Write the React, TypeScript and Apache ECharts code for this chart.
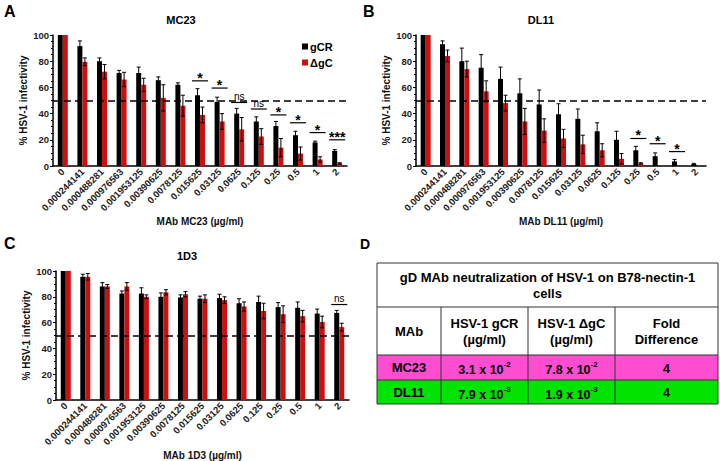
import React, { useEffect, useRef } from "react";
import * as echarts from "echarts";

const FONT = '"Liberation Sans", Arial, Helvetica, sans-serif';

const categories = ["0", "0.000244141", "0.000488281", "0.000976563", "0.001953125", "0.00390625", "0.0078125", "0.015625", "0.03125", "0.0625", "0.125", "0.25", "0.5", "1", "2"];
const seriesNames = ["gCR", "ΔgC"];

// Panel A – MC23
const mc23Gcr = [100, 91.5, 80, 71, 71, 65.5, 62, 54, 49, 40, 34, 30.5, 23.5, 18, 11.5];
const mc23GcrErr = [0, 4, 2.5, 2, 4.5, 2.5, 1.5, 5, 3.5, 4, 3.5, 3.5, 3, 1, 1];
const mc23Dgc = [100, 79.5, 72, 66, 62, 52, 46, 39, 34, 28, 22.5, 14, 9.5, 5, 2];
const mc23DgcErr = [0, 3, 5.5, 5.5, 5, 10, 8, 6, 6, 9, 6, 7, 5, 2, 0.5];
const mc23SigIdx = [7, 8, 9, 10, 11, 12, 13, 14];
const mc23SigY = [65, 59.5, 48.5, 43.5, 39, 33, 25.5, 20];
const mc23SigLbl = ["*", "*", "ns", "ns", "*", "*", "*", "***"];

// Panel B – DL11
const dl11Gcr = [100, 93, 80, 75, 66.5, 55.5, 47, 39.5, 36, 26.5, 20, 12, 7.5, 3.5, 1.5];
const dl11GcrErr = [0, 2.5, 10, 10, 9, 11, 11, 8, 7.5, 6.5, 6.5, 3, 2.5, 1.5, 0.5];
const dl11Dgc = [100, 84, 74, 57, 48, 34, 27, 21, 16.5, 12, 5.5, 2, 0, 0, 0];
const dl11DgcErr = [0, 4.5, 6, 8, 6, 10, 9, 7, 7, 5, 4, 0.5, 0, 0, 0];
const dl11SigIdx = [11, 12, 13];
const dl11SigY = [21, 17, 11];
const dl11SigLbl = ["*", "*", "*"];

// Panel C – 1D3
const d13Gcr = [100, 95.5, 88, 82.5, 82.5, 80, 79.5, 78.5, 79, 75, 76, 72, 71.5, 67, 67.5];
const d13GcrErr = [0, 2, 3, 2, 4.5, 3, 2, 2, 3, 3.5, 4.5, 3.5, 4.5, 3.5, 2];
const d13Dgc = [100, 95.5, 88, 88, 80, 83.5, 82, 78.5, 77.5, 72.5, 69, 66.5, 65, 60.5, 56.5];
const d13DgcErr = [0, 2.5, 1.5, 3, 1.5, 2, 2, 3, 2.5, 3.5, 6, 6.5, 4.5, 4.5, 3];
const d13SigIdx = [14];
const d13SigY = [74];
const d13SigLbl = ["ns"];

const yTicks = [0, 20, 40, 60, 80, 100];
const refLine = 50;

// Panel D – table
const tableTitle = "gD MAb neutralization of HSV-1 on B78-nectin-1\ncells";
const tableHeaders = ["MAb", "HSV-1 gCR\n(µg/ml)", "HSV-1 ΔgC\n(µg/ml)", "Fold\nDifference"];
const tableMabs = ["MC23", "DL11"];
const tableGcr = [["3.1 x 10", "-2"], ["7.9 x 10", "-3"]];
const tableDgc = [["7.8 x 10", "-2"], ["1.9 x 10", "-3"]];
const tableFold = ["4", "4"];
const rowColors = ["#FF4DD2", "#00E400"];

const BLACK = "#000000";
const RED = "#CC1010";

function errorBarSeries(gi: number, vals: number[], errs: number[], offset: number) {
  return {
    type: "custom",
    xAxisIndex: gi,
    yAxisIndex: gi,
    z: 5,
    clip: false,
    silent: true,
    encode: { x: 0, y: 1 },
    data: vals.map((v, i) => [i, v, errs[i]]),
    renderItem: (params: any, api: any) => {
      const idx = api.value(0);
      const v = api.value(1);
      const e = api.value(2);
      if (!e) return null;
      const top = api.coord([idx, v + e]);
      const bot = api.coord([idx, Math.max(0, v - e)]);
      const cx = top[0] + offset;
      const st = { stroke: "#000", lineWidth: 1 };
      return {
        type: "group",
        children: [
          { type: "line", shape: { x1: cx, y1: top[1], x2: cx, y2: bot[1] }, style: st },
          { type: "line", shape: { x1: cx - 2, y1: top[1], x2: cx + 2, y2: top[1] }, style: st },
          { type: "line", shape: { x1: cx - 2, y1: bot[1], x2: cx + 2, y2: bot[1] }, style: st },
        ],
      };
    },
  };
}

function sigSeries(gi: number, idxs: number[], ys: number[], labels: string[]) {
  return {
    type: "custom",
    xAxisIndex: gi,
    yAxisIndex: gi,
    z: 6,
    clip: false,
    silent: true,
    encode: { x: 0, y: 1 },
    data: idxs.map((c, i) => [c, ys[i]]),
    renderItem: (params: any, api: any) => {
      const p = api.coord([api.value(0), api.value(1)]);
      const lbl = labels[params.dataIndex];
      const isStar = lbl.indexOf("*") >= 0;
      return {
        type: "group",
        children: [
          { type: "line", shape: { x1: p[0] - 8, y1: p[1], x2: p[0] + 8, y2: p[1] }, style: { stroke: "#000", lineWidth: 1.2 } },
          {
            type: "text",
            style: {
              text: lbl,
              x: p[0],
              y: isStar ? p[1] + 4 : p[1] - 1,
              align: "center",
              verticalAlign: "bottom",
              textAlign: "center",
              textVerticalAlign: "bottom",
              font: isStar ? `bold 14px ${FONT}` : `normal 10px ${FONT}`,
              fill: "#000",
            },
          },
        ],
      };
    },
  };
}

function panelSeries(gi: number, gcr: number[], gcrErr: number[], dgc: number[], dgcErr: number[], sIdx: number[], sY: number[], sL: string[]) {
  return [
    {
      type: "line",
      xAxisIndex: gi,
      yAxisIndex: gi,
      data: [],
      z: 1,
      silent: true,
      markLine: {
        silent: true,
        symbol: ["none", "none"],
        label: { show: false },
        lineStyle: { color: "#000", type: [7, 4], width: 1.5 },
        data: [{ yAxis: refLine }],
      },
    },
    {
      name: seriesNames[0],
      type: "bar",
      xAxisIndex: gi,
      yAxisIndex: gi,
      data: gcr,
      barWidth: 5,
      barGap: "0%",
      z: 3,
      itemStyle: { color: BLACK },
    },
    {
      name: seriesNames[1],
      type: "bar",
      xAxisIndex: gi,
      yAxisIndex: gi,
      data: dgc,
      barWidth: 5,
      barGap: "0%",
      z: 3,
      itemStyle: { color: RED },
    },
    errorBarSeries(gi, gcr, gcrErr, -2.5),
    errorBarSeries(gi, dgc, dgcErr, 2.5),
    sigSeries(gi, sIdx, sY, sL),
  ];
}

function makeXAxis(gi: number, name: string) {
  return {
    type: "category",
    gridIndex: gi,
    data: categories,
    boundaryGap: true,
    name,
    nameLocation: "middle",
    nameGap: 50,
    nameTextStyle: { fontFamily: FONT, fontWeight: "bold", fontSize: 10, color: "#111" },
    axisLine: { show: true, lineStyle: { color: "#000", width: 1.5 } },
    axisTick: { show: false },
    axisLabel: { interval: 0, rotate: 45, fontFamily: FONT, fontWeight: "bold", fontSize: 9.5, color: "#222", margin: 4 },
    splitLine: { show: false },
  };
}

function makeYAxis(gi: number) {
  return {
    type: "value",
    gridIndex: gi,
    min: yTicks[0],
    max: yTicks[yTicks.length - 1],
    interval: yTicks[1] - yTicks[0],
    name: "% HSV-1 infectivity",
    nameLocation: "middle",
    nameGap: 25,
    nameTextStyle: { fontFamily: FONT, fontWeight: "bold", fontSize: 10, color: "#111" },
    axisLine: { show: true, lineStyle: { color: "#000", width: 1.5 } },
    axisTick: { show: true, length: 3, lineStyle: { color: "#000" } },
    minorTick: { show: true, splitNumber: 4, length: 2, lineStyle: { color: "#000" } },
    splitLine: { show: false },
    axisLabel: { fontFamily: FONT, fontWeight: "bold", fontSize: 9.5, color: "#222", margin: 4 },
  };
}

function txt(x: number, y: number, text: string, size: number, align = "center", vAlign = "middle", weight = "bold") {
  return {
    type: "text",
    x,
    y,
    silent: true,
    style: {
      text,
      font: `${weight} ${size}px ${FONT}`,
      fill: "#000",
      align,
      verticalAlign: vAlign,
      textAlign: align,
      textVerticalAlign: vAlign,
      lineHeight: size + 3,
    },
  };
}

function supText(x: number, y: number, parts: string[]) {
  return {
    type: "text",
    x,
    y,
    silent: true,
    style: {
      text: `{b|${parts[0]}}{s|${parts[1]}}`,
      align: "center",
      verticalAlign: "middle",
      textAlign: "center",
      textVerticalAlign: "middle",
      rich: {
        b: { font: `bold 12.5px ${FONT}`, fill: "#000", lineHeight: 16, verticalAlign: "bottom" },
        s: { font: `bold 8px ${FONT}`, fill: "#000", lineHeight: 16, verticalAlign: "top" },
      },
    },
  };
}

function tableGraphics() {
  const cols = [377, 441, 528, 615, 718];
  const rows = [263, 307, 355, 380, 404];
  const els: any[] = [];
  rowColors.forEach((c, i) => {
    els.push({ type: "rect", shape: { x: cols[0], y: rows[2 + i], width: cols[4] - cols[0], height: rows[3 + i] - rows[2 + i] }, style: { fill: c }, silent: true });
  });
  const ln = { stroke: "#333", lineWidth: 1 };
  rows.forEach((y) => els.push({ type: "line", shape: { x1: cols[0], y1: y, x2: cols[4], y2: y }, style: ln, silent: true }));
  els.push({ type: "line", shape: { x1: cols[0], y1: rows[0], x2: cols[0], y2: rows[4] }, style: ln, silent: true });
  els.push({ type: "line", shape: { x1: cols[4], y1: rows[0], x2: cols[4], y2: rows[4] }, style: ln, silent: true });
  for (let k = 1; k < 4; k++) {
    els.push({ type: "line", shape: { x1: cols[k], y1: rows[1], x2: cols[k], y2: rows[4] }, style: ln, silent: true });
  }
  els.push(txt((cols[0] + cols[4]) / 2, (rows[0] + rows[1]) / 2, tableTitle, 13));
  tableHeaders.forEach((h, k) => els.push(txt((cols[k] + cols[k + 1]) / 2, (rows[1] + rows[2]) / 2, h, 13)));
  tableMabs.forEach((m, i) => {
    const cy = (rows[2 + i] + rows[3 + i]) / 2;
    els.push(txt((cols[0] + cols[1]) / 2, cy, m, 13));
    els.push(supText((cols[1] + cols[2]) / 2, cy + 1, tableGcr[i]));
    els.push(supText((cols[2] + cols[3]) / 2, cy + 1, tableDgc[i]));
    els.push(txt((cols[3] + cols[4]) / 2, cy + 1, tableFold[i], 12.5));
  });
  return els;
}

export default function App() {
  const ref = useRef<HTMLDivElement>(null);
  useEffect(() => {
    if (!ref.current) return;
    const chart = echarts.init(ref.current, null, { renderer: "svg" });
    const option: any = {
      animation: false,
      backgroundColor: "#ffffff",
      textStyle: { fontFamily: FONT },
      legend: {
        data: seriesNames,
        orient: "vertical",
        left: 302,
        top: 41,
        icon: "rect",
        itemWidth: 6,
        itemHeight: 6,
        itemGap: 5,
        padding: 0,
        selectedMode: false,
        textStyle: { fontFamily: FONT, fontWeight: "bold", fontSize: 11, color: "#000", padding: [0, 0, 0, -3] },
      },
      grid: [
        { left: 53, top: 35, width: 294, height: 131 },
        { left: 416, top: 35, width: 290, height: 131 },
        { left: 56, top: 271, width: 293, height: 130 },
      ],
      xAxis: [makeXAxis(0, "MAb MC23 (µg/ml)"), makeXAxis(1, "MAb DL11 (µg/ml)"), makeXAxis(2, "MAb 1D3 (µg/ml)")],
      yAxis: [makeYAxis(0), makeYAxis(1), makeYAxis(2)],
      series: [
        ...panelSeries(0, mc23Gcr, mc23GcrErr, mc23Dgc, mc23DgcErr, mc23SigIdx, mc23SigY, mc23SigLbl),
        ...panelSeries(1, dl11Gcr, dl11GcrErr, dl11Dgc, dl11DgcErr, dl11SigIdx, dl11SigY, dl11SigLbl),
        ...panelSeries(2, d13Gcr, d13GcrErr, d13Dgc, d13DgcErr, d13SigIdx, d13SigY, d13SigLbl),
      ],
      graphic: [
        txt(4, 11, "A", 16, "left"),
        txt(363, 11, "B", 16, "left"),
        txt(4, 243, "C", 16, "left"),
        txt(360, 244, "D", 14, "left"),
        txt(181, 20, "MC23", 11),
        txt(541, 20, "DL11", 11),
        txt(187, 256, "1D3", 11),
        ...tableGraphics(),
      ],
    };
    chart.setOption(option);
    return () => chart.dispose();
  }, []);
  return <div ref={ref} style={{ position: "fixed", left: 0, top: 0, width: 720, height: 461 }} />;
}
